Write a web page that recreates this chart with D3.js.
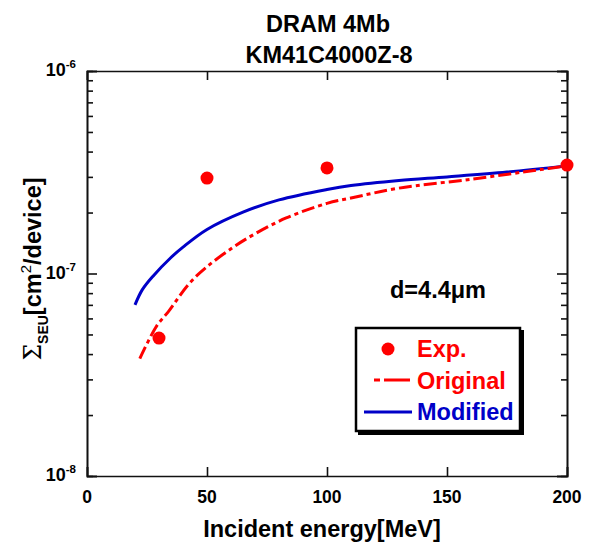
<!DOCTYPE html>
<html>
<head>
<meta charset="utf-8">
<script src="https://cdn.jsdelivr.net/npm/d3@7"></script>
<style>
  body { margin: 0; background: #fff; }
  text { font-family: "Liberation Sans", Arial, sans-serif; font-weight: bold; }
</style>
</head>
<body>
<div id="chart"></div>
<script>
// data
const expEnergy = [30, 50, 100, 200];
const expSigma = [4.8e-8, 2.96e-7, 3.32e-7, 3.43e-7];

const origEnergy = [22, 29, 34, 42.5, 50, 61, 70, 83, 100, 110, 130, 160, 189, 200];
const origSigma = [3.8e-8, 5.5e-8, 6.5e-8, 8.9e-8, 1.08e-7, 1.35e-7, 1.57e-7, 1.88e-7, 2.22e-7, 2.36e-7, 2.64e-7, 2.92e-7, 3.26e-7, 3.4e-7];

const modEnergy = [20, 23, 27.5, 35, 40, 50, 65, 80, 100, 110, 130, 150, 175, 200];
const modSigma = [7.0e-8, 8.3e-8, 9.7e-8, 1.2e-7, 1.35e-7, 1.65e-7, 2.01e-7, 2.31e-7, 2.6e-7, 2.72e-7, 2.88e-7, 3.0e-7, 3.17e-7, 3.4e-7];

const xTicks = [0, 50, 100, 150, 200];
const yTicks = [1e-8, 1e-7, 1e-6];
const yExp = ["-8", "-7", "-6"];
const legendLabels = ["Exp.", "Original", "Modified"];

const width = 592;
const height = 544;
const margin = { top: 71, right: 25, bottom: 68, left: 87 };

const svg = d3.select("#chart")
    .append("svg")
    .attr("width", width)
    .attr("height", height);

// scales
const x = d3.scaleLinear()
    .domain([0, 200])
    .range([margin.left, width - margin.right]);

const y = d3.scaleLog()
    .domain([1e-8, 1e-6])
    .range([height - margin.bottom, margin.top]);

const minorY = [];
[1e-8, 1e-7].forEach(d => { for (let k = 2; k <= 9; k++) minorY.push(d * k); });

// axes, ticks pointing inward
const axes = svg.append("g").attr("class", "axes");

axes.append("g")
    .attr("transform", `translate(0,${y.range()[0]})`)
    .call(d3.axisBottom(x).tickValues(xTicks).tickSize(-9).tickFormat(""));
axes.append("g")
    .attr("transform", `translate(0,${y.range()[1]})`)
    .call(d3.axisTop(x).tickValues(xTicks).tickSize(-9).tickFormat(""));
axes.append("g")
    .attr("transform", `translate(${x.range()[0]},0)`)
    .call(d3.axisLeft(y).tickValues(yTicks).tickSize(-10).tickFormat(""));
axes.append("g")
    .attr("transform", `translate(${x.range()[0]},0)`)
    .call(d3.axisLeft(y).tickValues(minorY).tickSize(-6).tickFormat(""));
axes.append("g")
    .attr("transform", `translate(${x.range()[1]},0)`)
    .call(d3.axisRight(y).tickValues(yTicks).tickSize(-10).tickFormat(""));
axes.append("g")
    .attr("transform", `translate(${x.range()[1]},0)`)
    .call(d3.axisRight(y).tickValues(minorY).tickSize(-6).tickFormat(""));

axes.selectAll(".domain").attr("stroke", "#111").attr("stroke-width", 1.6);
axes.selectAll(".tick line").attr("stroke", "#111").attr("stroke-width", 1.6);

// tick labels
svg.append("g").selectAll("text")
    .data(xTicks)
    .enter()
    .append("text")
    .attr("x", d => x(d))
    .attr("y", y.range()[0] + 27)
    .attr("text-anchor", "middle")
    .attr("font-size", 17.5)
    .text(d => d);

const yLab = svg.append("g").selectAll("text")
    .data(yTicks)
    .enter()
    .append("text")
    .attr("x", 76)
    .attr("y", d => y(d) + 5)
    .attr("text-anchor", "end")
    .attr("font-size", 18);
yLab.append("tspan").text("10");
yLab.append("tspan")
    .attr("dy", -8)
    .attr("font-size", 11.5)
    .text((_, i) => yExp[i]);

// titles
svg.append("text")
    .attr("x", 328).attr("y", 32)
    .attr("text-anchor", "middle")
    .attr("font-size", 23.5)
    .text("DRAM 4Mb");
svg.append("text")
    .attr("x", 329).attr("y", 63)
    .attr("text-anchor", "middle")
    .attr("font-size", 23.5)
    .text("KM41C4000Z-8");

svg.append("text")
    .attr("x", 322).attr("y", 537)
    .attr("text-anchor", "middle")
    .attr("font-size", 23.5)
    .text("Incident energy[MeV]");

const yTitle = svg.append("text")
    .attr("transform", "translate(41,269) rotate(-90)")
    .attr("text-anchor", "middle")
    .attr("font-size", 23.5);
yTitle.append("tspan")
    .attr("font-family", "'DejaVu Serif', serif")
    .attr("font-weight", "normal")
    .text("Σ");
yTitle.append("tspan")
    .attr("dy", 7)
    .attr("font-size", 14)
    .text("SEU");
yTitle.append("tspan")
    .attr("dy", -7)
    .text("[cm");
yTitle.append("tspan")
    .attr("dy", -10)
    .attr("font-size", 15)
    .attr("font-weight", "normal")
    .text("2");
yTitle.append("tspan")
    .attr("dy", 10)
    .text("/device]");

svg.append("text")
    .attr("x", 390).attr("y", 298)
    .attr("font-size", 23.5)
    .text("d=4.4μm");

// curves
const line = d3.line()
    .x(d => x(d[0]))
    .y(d => y(d[1]))
    .curve(d3.curveCatmullRom.alpha(0.5));

svg.append("path")
    .datum(modEnergy.map((e, i) => [e, modSigma[i]]))
    .attr("d", line)
    .attr("fill", "none")
    .attr("stroke", "#0000c8")
    .attr("stroke-width", 3);

svg.append("path")
    .datum(origEnergy.map((e, i) => [e, origSigma[i]]))
    .attr("d", line)
    .attr("fill", "none")
    .attr("stroke", "#ff0000")
    .attr("stroke-width", 3)
    .attr("stroke-dasharray", "13,4,4,4");

svg.selectAll(".dot")
    .data(expEnergy)
    .enter()
    .append("circle")
    .attr("class", "dot")
    .attr("cx", d => x(d))
    .attr("cy", (_, i) => y(expSigma[i]))
    .attr("r", 6.5)
    .attr("fill", "#ff0000");

// legend
const legend = svg.append("g");
legend.append("rect")
    .attr("x", 358).attr("y", 330)
    .attr("width", 166).attr("height", 105)
    .attr("fill", "#000");
legend.append("rect")
    .attr("x", 356).attr("y", 328)
    .attr("width", 164).attr("height", 103)
    .attr("fill", "#fff")
    .attr("stroke", "#000")
    .attr("stroke-width", 2.5);

legend.append("circle")
    .attr("cx", 388).attr("cy", 349).attr("r", 6.5)
    .attr("fill", "#ff0000");
legend.append("line")
    .attr("x1", 374).attr("x2", 410).attr("y1", 380).attr("y2", 380)
    .attr("stroke", "#ff0000").attr("stroke-width", 3)
    .attr("stroke-dasharray", "6,4,26,4");
legend.append("line")
    .attr("x1", 364).attr("x2", 412).attr("y1", 412).attr("y2", 412)
    .attr("stroke", "#0000c8").attr("stroke-width", 3);

legend.selectAll(".lt")
    .data(legendLabels)
    .enter()
    .append("text")
    .attr("class", "lt")
    .attr("x", 417)
    .attr("y", (_, i) => 357 + i * 31.5)
    .attr("font-size", 23.5)
    .attr("fill", (_, i) => i < 2 ? "#ff0000" : "#0000c8")
    .text(d => d);
</script>
</body>
</html>
